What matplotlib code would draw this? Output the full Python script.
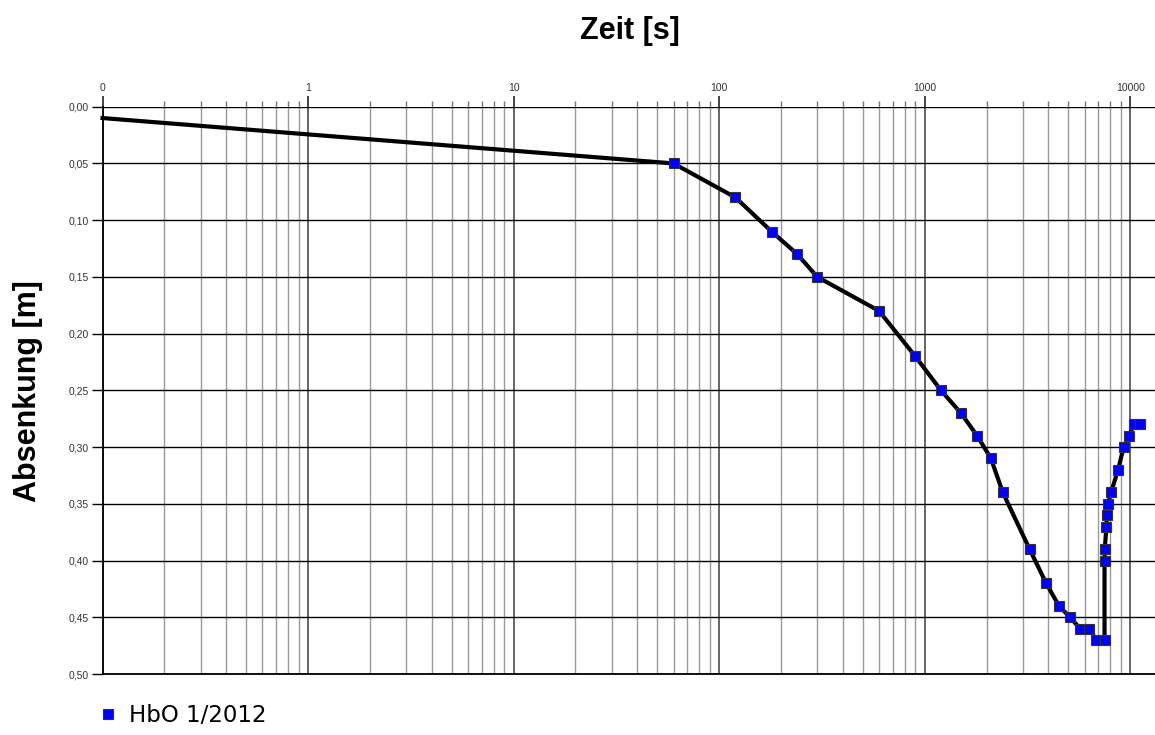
import matplotlib.pyplot as plt
from matplotlib.lines import Line2D
from matplotlib.ticker import FixedLocator, NullFormatter

# Messdaten: Zeit [s] und Absenkung [m]
zeit = [0.1, 60, 120, 180, 240, 300, 600, 900, 1200, 1500, 1800, 2100, 2400,
        3240, 3900, 4500, 5100, 5700, 6300, 6850, 7500,
        7500, 7520, 7660, 7700, 7800, 8070, 8730, 9290, 9870, 10400, 11100]
absenkung = [0.01, 0.05, 0.08, 0.11, 0.13, 0.15, 0.18, 0.22, 0.25, 0.27, 0.29, 0.31, 0.34,
             0.39, 0.42, 0.44, 0.45, 0.46, 0.46, 0.47, 0.47,
             0.40, 0.39, 0.37, 0.36, 0.35, 0.34, 0.32, 0.30, 0.29, 0.28, 0.28]

x_ticks = [0.1, 1, 10, 100, 1000, 10000]
x_labels = ["0", "1", "10", "100", "1000", "10000"]
y_ticks = [0.00, 0.05, 0.10, 0.15, 0.20, 0.25, 0.30, 0.35, 0.40, 0.45, 0.50]
y_labels = [f"{v:.2f}".replace(".", ",") for v in y_ticks]
serie = "HbO 1/2012"

fig = plt.figure(figsize=(11.55, 7.35), dpi=100)
ax = fig.add_axes([102.5 / 1155, 1 - 674 / 735, 1 - 102.5 / 1155, (674 - 106.7) / 735])

ax.set_xscale("log")
ax.set_xlim(0.1, 13200)
ax.set_ylim(0.5, 0.0)

# Gitter
minor = [m * 10.0 ** e for e in range(-1, 5) for m in range(2, 10)]
ax.xaxis.set_major_locator(FixedLocator(x_ticks))
ax.xaxis.set_minor_locator(FixedLocator(minor))
ax.xaxis.set_minor_formatter(NullFormatter())
ax.set_xticks(x_ticks, x_labels)
ax.set_yticks(y_ticks, y_labels)
ax.grid(True, which="major", axis="x", color="#666666", lw=1.4)
ax.grid(True, which="minor", axis="x", color="#9a9a9a", lw=1.0)
ax.grid(True, which="major", axis="y", color="black", lw=1.0)

ax.xaxis.tick_top()
ax.tick_params(axis="x", which="major", length=8, width=1.4, color="#444444",
               labelsize=7.5, labelcolor="#333333", pad=2)
ax.tick_params(axis="x", which="minor", length=4.5, width=1.0, color="#777777")
ax.tick_params(axis="y", length=8, width=1.0, labelsize=7.5, labelcolor="#333333", pad=2)
for lab in ax.get_xticklabels() + ax.get_yticklabels():
    lab.set_family("Liberation Sans")

ax.spines["right"].set_visible(False)
ax.spines["top"].set_visible(False)
ax.spines["left"].set_linewidth(1.3)
ax.spines["bottom"].set_linewidth(1.3)

ax.plot(zeit, absenkung, color="black", lw=3, zorder=3, clip_on=False)
ax.plot(zeit[1:], absenkung[1:], ls="none", marker="s", ms=7, mfc="#0000ff",
        mec="#333333", mew=0.8, zorder=4, clip_on=False)

fig.text(0.545, 0.958, "Zeit [s]", ha="center", va="center", fontsize=22, fontweight="bold",
         family=["Liberation Sans Narrow", "Liberation Sans"])
fig.text(0.024, 0.468, "Absenkung [m]", ha="center", va="center", rotation=90,
         fontsize=22, fontweight="bold", family=["Liberation Sans Narrow", "Liberation Sans"])

handle = Line2D([], [], ls="none", marker="s", ms=6.5, mfc="#0000ff", mec="#333333", mew=0.8)
fig.legend([handle], [serie], loc="center left", bbox_to_anchor=(0.068, 0.026),
           frameon=False, handlelength=0.8, handletextpad=0.5,
           prop={"family": "DejaVu Sans", "size": 16.5})

fig.savefig("out.png", dpi=100)
